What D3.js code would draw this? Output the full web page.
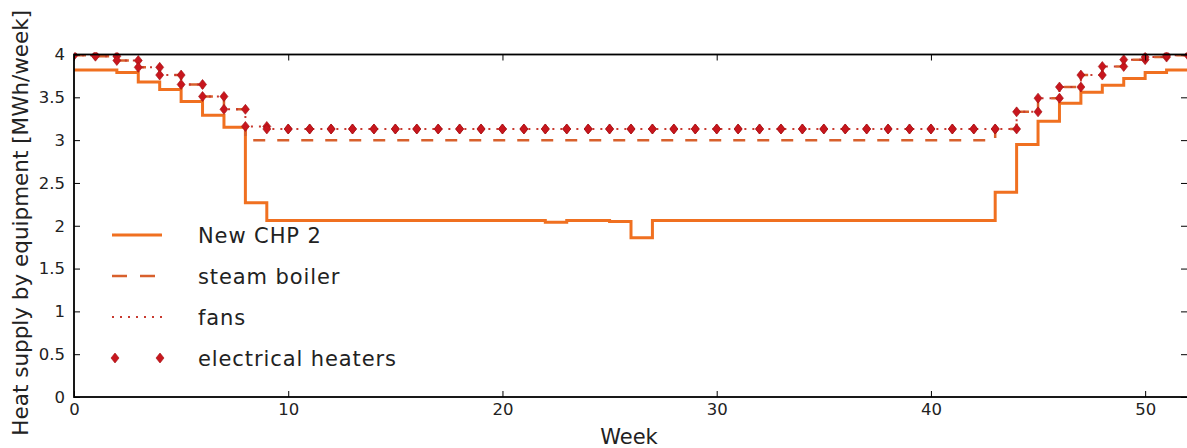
<!DOCTYPE html>
<html>
<head>
<meta charset="utf-8">
<script src="https://cdn.jsdelivr.net/npm/d3@7"></script>
<style>
  html, body { margin: 0; padding: 0; background: #fff; }
  svg { display: block; font-family: "DejaVu Sans", sans-serif; }
</style>
</head>
<body>
<svg id="chart" width="1187" height="448"></svg>
<script>
// Weekly heat supply, stacked levels per equipment (MWh/week), weeks 0..51
const weeks = d3.range(0, 52);

const chp2 = [
  3.82, 3.82, 3.79, 3.68, 3.59, 3.45, 3.29, 3.15, 2.27, 2.06,
  2.06, 2.06, 2.06, 2.06, 2.06, 2.06, 2.06, 2.06, 2.06, 2.06,
  2.06, 2.06, 2.04, 2.06, 2.06, 2.05, 1.86, 2.06, 2.06, 2.06,
  2.06, 2.06, 2.06, 2.06, 2.06, 2.06, 2.06, 2.06, 2.06, 2.06,
  2.06, 2.06, 2.06, 2.39, 2.95, 3.22, 3.43, 3.56, 3.64, 3.72,
  3.79, 3.82
];

const steamBoiler = [
  3.99, 3.98, 3.93, 3.85, 3.76, 3.65, 3.51, 3.36, 3.00, 3.00,
  3.00, 3.00, 3.00, 3.00, 3.00, 3.00, 3.00, 3.00, 3.00, 3.00,
  3.00, 3.00, 3.00, 3.00, 3.00, 3.00, 3.00, 3.00, 3.00, 3.00,
  3.00, 3.00, 3.00, 3.00, 3.00, 3.00, 3.00, 3.00, 3.00, 3.00,
  3.00, 3.00, 3.00, 3.13, 3.33, 3.49, 3.62, 3.76, 3.86, 3.94,
  3.97, 3.99
];

const fans = [
  3.99, 3.98, 3.93, 3.85, 3.76, 3.65, 3.51, 3.36, 3.16, 3.13,
  3.13, 3.13, 3.13, 3.13, 3.13, 3.13, 3.13, 3.13, 3.13, 3.13,
  3.13, 3.13, 3.13, 3.13, 3.13, 3.13, 3.13, 3.13, 3.13, 3.13,
  3.13, 3.13, 3.13, 3.13, 3.13, 3.13, 3.13, 3.13, 3.13, 3.13,
  3.13, 3.13, 3.13, 3.13, 3.33, 3.49, 3.62, 3.76, 3.86, 3.94,
  3.97, 3.99
];

const electricalHeaters = [
  3.99, 3.98, 3.93, 3.85, 3.76, 3.65, 3.51, 3.36, 3.16, 3.13,
  3.13, 3.13, 3.13, 3.13, 3.13, 3.13, 3.13, 3.13, 3.13, 3.13,
  3.13, 3.13, 3.13, 3.13, 3.13, 3.13, 3.13, 3.13, 3.13, 3.13,
  3.13, 3.13, 3.13, 3.13, 3.13, 3.13, 3.13, 3.13, 3.13, 3.13,
  3.13, 3.13, 3.13, 3.13, 3.33, 3.49, 3.62, 3.76, 3.86, 3.94,
  3.97, 3.99
];

const xTicks = [0, 10, 20, 30, 40, 50];
const yTicks = [0, 0.5, 1, 1.5, 2, 2.5, 3, 3.5, 4];
const yTickLabels = ["0", "0.5", "1", "1.5", "2", "2.5", "3", "3.5", "4"];

const seriesNames = ["New CHP 2", "steam boiler", "fans", "electrical heaters"];
const colors = {
  chp: "#f07020",
  steam: "#d8602c",
  fans: "#c83a30",
  heaters: "#c8161e"
};

const svg = d3.select("#chart");
const plotLeft = 74, plotRight = 1188, plotTop = 54.5, plotBottom = 397;

const x = d3.scaleLinear().domain([0, 52]).range([plotLeft, plotRight]);
const y = d3.scaleLinear().domain([0, 4]).range([plotBottom, plotTop]);

svg.append("defs").append("clipPath").attr("id", "plotClip")
  .append("rect").attr("x", plotLeft).attr("y", plotTop - 2)
  .attr("width", plotRight - plotLeft).attr("height", plotBottom - plotTop + 2);

const plot = svg.append("g").attr("clip-path", "url(#plotClip)");

// step-after path: each week's value holds until the next week; week 52 closes the last step
const stepPoints = vals => d3.range(0, 53).map(w => [w, vals[Math.min(w, vals.length - 1)]]);
const stepLine = d3.line()
  .x(d => x(d[0])).y(d => y(d[1]))
  .curve(d3.curveStepAfter);

plot.append("path").attr("d", stepLine(stepPoints(chp2)))
  .attr("fill", "none").attr("stroke", colors.chp).attr("stroke-width", 3);

plot.append("path").attr("d", stepLine(stepPoints(steamBoiler)))
  .attr("fill", "none").attr("stroke", colors.steam).attr("stroke-width", 2.5)
  .attr("stroke-dasharray", "12,12");

plot.append("path").attr("d", stepLine(stepPoints(fans)))
  .attr("fill", "none").attr("stroke", colors.fans).attr("stroke-width", 2)
  .attr("stroke-dasharray", "2,6");

// electrical heaters: markers at every corner of its step outline
const heaterPts = [];
d3.range(0, 53).forEach(w => {
  if (w > 0) heaterPts.push([w, electricalHeaters[w - 1]]);
  if (w < electricalHeaters.length) heaterPts.push([w, electricalHeaters[w]]);
});
const diamond = "M0,-5L4,0L0,5L-4,0Z";
plot.selectAll("path.heater").data(heaterPts).enter().append("path")
  .attr("class", "heater")
  .attr("d", diamond)
  .attr("transform", d => `translate(${x(d[0])},${y(d[1])})`)
  .attr("fill", colors.heaters)
  .attr("stroke", "#a01010").attr("stroke-width", 0.6);

// axes with inward ticks on all four sides
const fmtY = v => yTickLabels[yTicks.indexOf(v)];
const axB = svg.append("g").attr("transform", `translate(0,${plotBottom})`)
  .call(d3.axisBottom(x).tickValues(xTicks).tickSizeInner(-6).tickSizeOuter(0).tickPadding(6));
const axT = svg.append("g").attr("transform", `translate(0,${plotTop})`)
  .call(d3.axisTop(x).tickValues(xTicks).tickSizeInner(-6).tickSizeOuter(0).tickFormat(""));
const axL = svg.append("g").attr("transform", `translate(${plotLeft},0)`)
  .call(d3.axisLeft(y).tickValues(yTicks).tickFormat(fmtY).tickSizeInner(-6).tickSizeOuter(0).tickPadding(9));
const axR = svg.append("g").attr("transform", `translate(${plotRight - 1},0)`)
  .call(d3.axisRight(y).tickValues(yTicks).tickSizeInner(-6).tickSizeOuter(0).tickFormat(""));

[axB, axT, axL, axR].forEach(a => {
  a.select(".domain").remove();
  a.selectAll(".tick line").attr("stroke", "#000").attr("stroke-width", 1);
  a.selectAll(".tick text").attr("fill", "#222").style("font-size", "16.5px")
    .style("font-family", "'DejaVu Sans', sans-serif");
});

// frame
svg.append("rect").attr("x", plotLeft).attr("y", plotTop)
  .attr("width", plotRight - plotLeft).attr("height", plotBottom - plotTop)
  .attr("fill", "none").attr("stroke", "#000").attr("stroke-width", 1.8);

// axis titles
svg.append("text").attr("x", (plotLeft + plotRight) / 2 - 2).attr("y", 444)
  .attr("text-anchor", "middle").attr("fill", "#222")
  .style("font-size", "21px").text("Week");

svg.append("text")
  .attr("transform", `translate(28,${(plotTop + plotBottom) / 2 - 3}) rotate(-90)`)
  .attr("text-anchor", "middle").attr("fill", "#222")
  .style("font-size", "21.5px").text("Heat supply by equipment [MWh/week]");

// legend
const legend = svg.append("g");
const rowY = [235, 276, 317, 358];
const lx0 = 112, lx1 = 162, textX = 198;
legend.append("line").attr("x1", lx0).attr("x2", lx1).attr("y1", rowY[0]).attr("y2", rowY[0])
  .attr("stroke", colors.chp).attr("stroke-width", 3);
legend.append("line").attr("x1", lx0).attr("x2", lx1).attr("y1", rowY[1]).attr("y2", rowY[1])
  .attr("stroke", colors.steam).attr("stroke-width", 2.5).attr("stroke-dasharray", "15,13");
legend.append("line").attr("x1", lx0).attr("x2", lx1).attr("y1", rowY[2]).attr("y2", rowY[2])
  .attr("stroke", colors.fans).attr("stroke-width", 2).attr("stroke-dasharray", "2,6");
[lx0 + 3, lx1 - 2].forEach(px => {
  legend.append("path").attr("d", diamond)
    .attr("transform", `translate(${px},${rowY[3]})`)
    .attr("fill", colors.heaters).attr("stroke", "#a01010").attr("stroke-width", 0.6);
});
seriesNames.forEach((name, i) => {
  legend.append("text").attr("x", textX).attr("y", rowY[i] + 8)
    .attr("fill", "#222").style("font-size", "21px")
    .style("letter-spacing", "0.9px").text(name);
});
</script>
</body>
</html>
